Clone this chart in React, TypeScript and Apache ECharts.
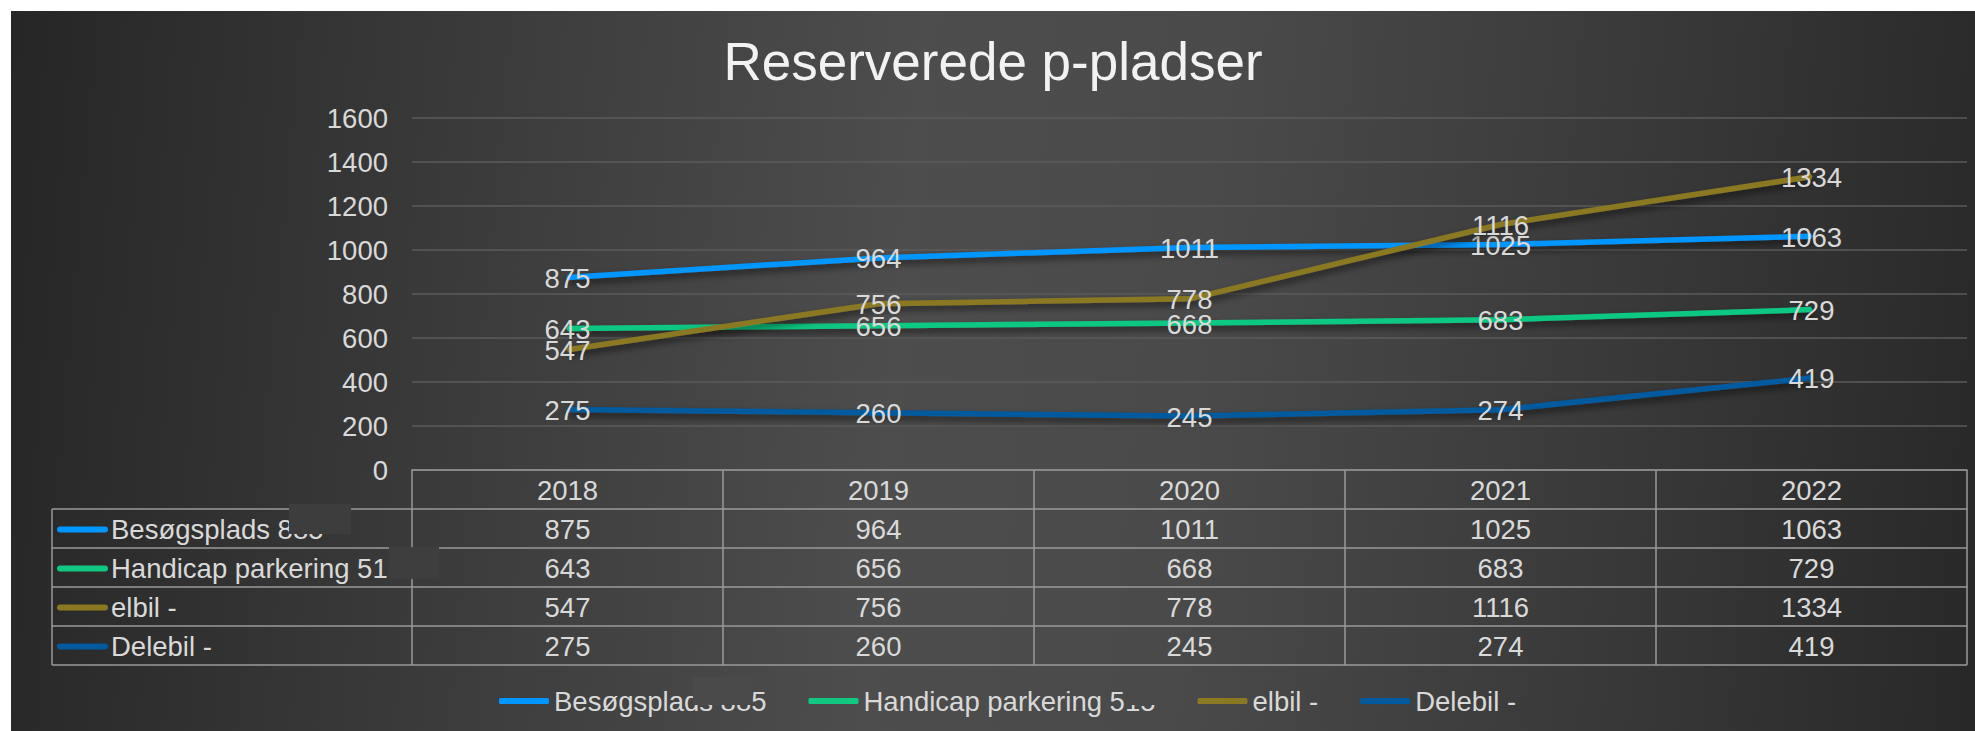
import React, { useEffect, useRef } from "react";
import * as echarts from "echarts";

// ---- data ----
const years: string[] = ["2018", "2019", "2020", "2021", "2022"];
const seriesNames: string[] = ["Besøgsplads 885", "Handicap parkering 515", "elbil -", "Delebil -"];
const besoegsplads: number[] = [875, 964, 1011, 1025, 1063];
const handicap: number[] = [643, 656, 668, 683, 729];
const elbil: number[] = [547, 756, 778, 1116, 1334];
const delebil: number[] = [275, 260, 245, 274, 419];
const yMin = 0;
const yMax = 1600;
const yStep = 200;
const titleText = "Reserverede p-pladser";

const seriesColors = ["#0096FF", "#10C882", "#8B7822", "#005A9E"];
const FONT = '"Liberation Sans", Arial, Helvetica, sans-serif';
const TXT = "#d9d9d9";
const BORDER = "#9a9a9a";
const FS = 27.5;

export default function App() {
  const ref = useRef<HTMLDivElement>(null);

  useEffect(() => {
    if (!ref.current) return;
    const chart = echarts.init(ref.current, null, { renderer: "svg" });
    const dataSets = [besoegsplads, handicap, elbil, delebil];

    const gridLeft = 401;
    const gridTop = 107;
    const gridWidth = 1555;
    const gridHeight = 352;

    chart.setOption({
      animation: false,
      title: {
        text: titleText,
        left: "center",
        top: 19,
        textStyle: { color: "#f2f2f2", fontSize: 53, fontWeight: "normal", fontFamily: FONT },
      },
      legend: {
        data: seriesNames,
        left: 488,
        top: 676,
        padding: 0,
        itemGap: 42,
        itemWidth: 50,
        itemHeight: 6,
        icon: "roundRect",
        textStyle: { color: TXT, fontSize: FS, fontFamily: FONT, lineHeight: 28 },
      },
      grid: { left: gridLeft, top: gridTop, width: gridWidth, height: gridHeight, containLabel: false },
      xAxis: {
        type: "category",
        data: years,
        boundaryGap: true,
        axisLine: { show: true, lineStyle: { color: BORDER, width: 1.5 } },
        axisTick: { show: false },
        axisLabel: { show: false },
        splitLine: { show: false },
      },
      yAxis: {
        type: "value",
        min: yMin,
        max: yMax,
        interval: yStep,
        axisLine: { show: false },
        axisTick: { show: false },
        axisLabel: {
          color: TXT,
          fontSize: FS,
          fontFamily: FONT,
          margin: 24,
          formatter: (v: number) => String(v),
        },
        splitLine: { lineStyle: { color: "#5b5b5b", width: 1.5 } },
      },
      series: dataSets.map((d, i) => ({
        name: seriesNames[i],
        type: "line",
        data: d,
        symbol: "circle",
        symbolSize: 2,
        itemStyle: { color: seriesColors[i] },
        lineStyle: {
          color: seriesColors[i],
          width: 5.5,
          shadowColor: "rgba(0,0,0,0.55)",
          shadowBlur: 7,
          shadowOffsetX: 2,
          shadowOffsetY: 4,
        },
        label: {
          show: true,
          position: "inside",
          offset: [0, 1],
          color: TXT,
          fontSize: FS,
          fontFamily: FONT,
        },
        z: 2 + i,
      })),
    });

    // ---- data table below the axis, positioned through the axis scales ----
    const centers = years.map((_, i) => chart.convertToPixel({ xAxisIndex: 0 }, i) as number);
    const band = centers.length > 1 ? centers[1] - centers[0] : gridWidth;
    const y0 = chart.convertToPixel({ yAxisIndex: 0 }, 0) as number;
    const rowH = 39;
    const tableLeft = 41;
    const colLeft = centers[0] - band / 2;
    const colRight = centers[centers.length - 1] + band / 2;
    const nRows = seriesNames.length;
    const tableBottom = y0 + rowH * (nRows + 1);

    const els: any[] = [];
    const line = (x1: number, y1: number, x2: number, y2: number) =>
      els.push({
        type: "line",
        shape: { x1, y1, x2, y2 },
        style: { stroke: BORDER, lineWidth: 1.5 },
        silent: true,
      });
    const text = (t: string, x: number, y: number, align: string) =>
      els.push({
        type: "text",
        x,
        y,
        style: {
          text: t,
          fill: TXT,
          font: `${FS}px ${FONT}`,
          textAlign: align,
          textVerticalAlign: "middle",
          align,
          verticalAlign: "middle",
        },
        silent: true,
      });

    // horizontal lines
    for (let r = 1; r <= nRows + 1; r++) {
      const y = y0 + r * rowH;
      line(tableLeft, y, colRight, y);
    }
    // vertical lines
    line(tableLeft, y0 + rowH, tableLeft, tableBottom);
    for (let c = 0; c <= centers.length; c++) {
      const x = colLeft + c * band;
      line(x, y0, x, tableBottom);
    }
    // header
    years.forEach((yr, i) => text(yr, centers[i], y0 + rowH / 2 + 1, "center"));
    // rows
    dataSets.forEach((d, r) => {
      const cy = y0 + rowH * (r + 1) + rowH / 2 + 1;
      els.push({
        type: "rect",
        shape: { x: tableLeft + 5, y: cy - 3, width: 51, height: 6, r: 3 },
        style: { fill: seriesColors[r] },
        silent: true,
      });
      text(seriesNames[r], tableLeft + 59, cy, "left");
      d.forEach((v, i) => text(String(v), centers[i], cy, "center"));
    });

    // redaction boxes as in the reference
    const boxes = [
      { x: 278, y: 493, w: 62, h: 30, c: "#3d3d3d" },
      { x: 378, y: 536, w: 50, h: 32, c: "#3e3e3e" },
      { x: 682, y: 666, w: 58, h: 28, c: "#4a4a4a" },
      { x: 1114, y: 666, w: 58, h: 28, c: "#4a4a4a" },
    ];
    boxes.forEach((b) =>
      els.push({
        type: "rect",
        z: 100,
        shape: { x: b.x, y: b.y, width: b.w, height: b.h },
        style: { fill: b.c },
        silent: true,
      })
    );

    chart.setOption({ graphic: { elements: els } });

    return () => chart.dispose();
  }, []);

  return (
    <div
      ref={ref}
      style={{
        position: "fixed",
        left: 11,
        top: 11,
        width: 1964,
        height: 720,
        background:
          "linear-gradient(95deg, #262626 0%, #383838 20%, #4d4d4d 45%, #4a4a4a 60%, #3a3a3a 80%, #282828 100%)",
      }}
    />
  );
}
